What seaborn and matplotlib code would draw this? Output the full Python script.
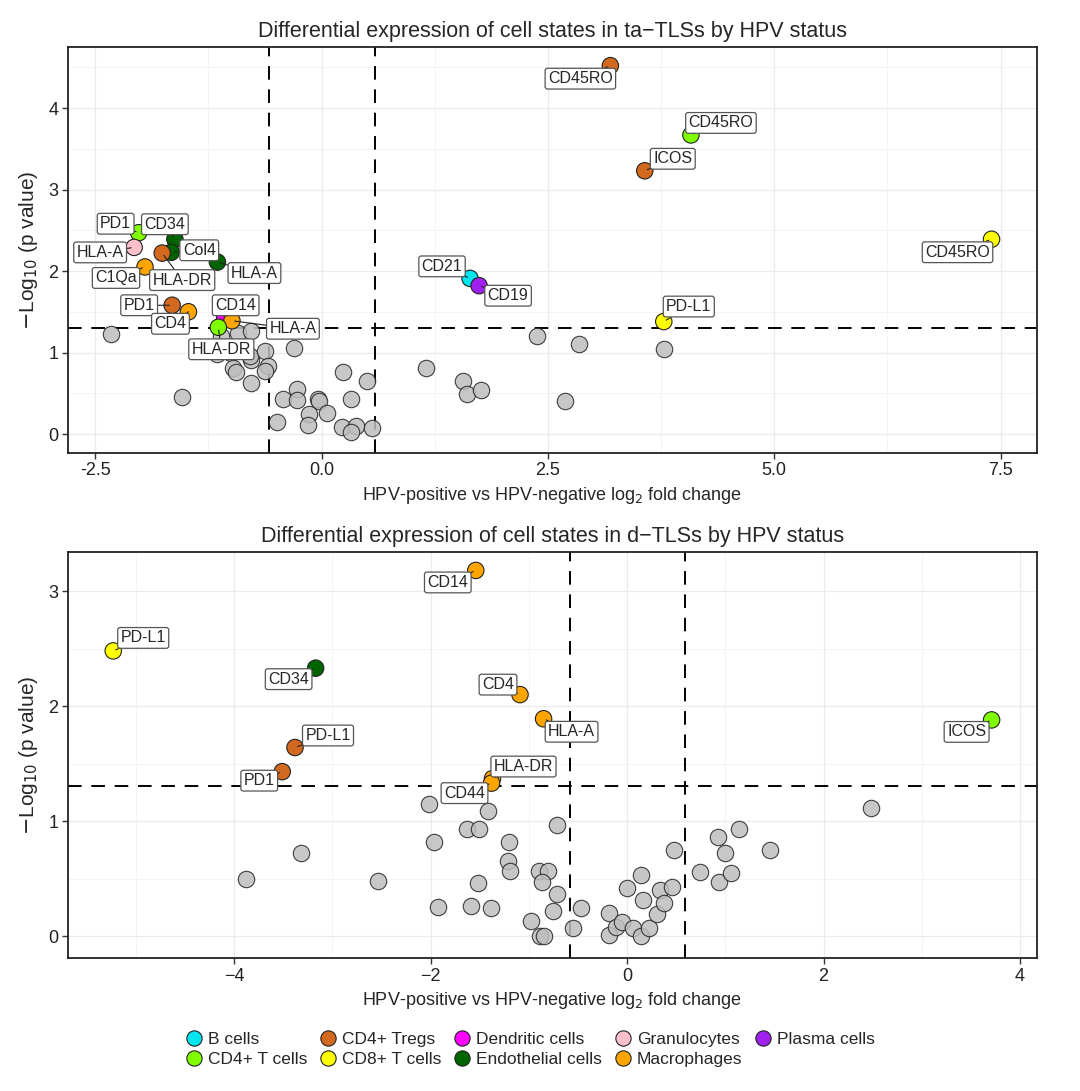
import numpy as np
import pandas as pd
import matplotlib
matplotlib.use("Agg")
import matplotlib.pyplot as plt
from matplotlib.lines import Line2D
import seaborn as sns

# legend categories and their fills
cell_types = ["B cells", "CD4+ T cells", "CD4+ Tregs", "CD8+ T cells", "Dendritic cells",
              "Endothelial cells", "Granulocytes", "Macrophages", "Plasma cells"]
type_colors = ["#00E5EE", "#7FFF00", "#D2691E", "#FFFF00", "#FF00FF",
               "#006400", "#FFC0CB", "#FFA500", "#A020F0"]

# ---- ta-TLS panel ----
ta_sig_type = ["CD4+ Tregs", "CD4+ T cells", "CD4+ Tregs", "CD8+ T cells", "B cells",
               "Plasma cells", "CD8+ T cells", "CD4+ T cells", "Granulocytes", "Endothelial cells",
               "Endothelial cells", "CD4+ Tregs", "Macrophages", "Endothelial cells", "CD4+ Tregs",
               "Macrophages", "Dendritic cells", "Macrophages", "CD4+ T cells"]
ta_sig_label = ["CD45RO", "CD45RO", "ICOS", "CD45RO", "CD21",
                "CD19", "PD-L1", "PD1", "HLA-A", "CD34",
                "Col4", "HLA-DR", "C1Qa", "HLA-A", "PD1",
                "CD4", "CD14", "HLA-A", "HLA-DR"]
ta_sig_fc = [3.19, 4.08, 3.57, 7.40, 1.64, 1.74, 3.78, -2.02, -2.07, -1.62,
             -1.66, -1.76, -1.95, -1.15, -1.65, -1.47, -1.07, -0.99, -1.14]
ta_sig_p = [4.52, 3.67, 3.23, 2.39, 1.91, 1.82, 1.38, 2.47, 2.29, 2.39,
            2.23, 2.22, 2.05, 2.11, 1.58, 1.50, 1.42, 1.39, 1.31]
ta_ns_fc = [-2.33, -1.54, -1.11, -0.92, -0.78, -1.16, -1.00, -0.78, -0.79, -0.63,
            -0.30, -0.98, -0.95, -0.59, -0.62, -0.78, 0.24, 0.50, -0.27, -0.43,
            -0.27, -0.04, -0.03, 0.33, -0.14, 0.06, -0.49, -0.15, 0.23, 0.38,
            0.33, 0.56, 2.38, 2.84, 3.78, 1.15, 1.56, 1.61, 1.76, 2.69]
ta_ns_p = [1.23, 0.46, 1.20, 1.24, 1.26, 0.98, 1.00, 0.91, 0.96, 1.02,
           1.05, 0.81, 0.76, 0.83, 0.77, 0.62, 0.76, 0.65, 0.55, 0.43,
           0.42, 0.43, 0.40, 0.43, 0.25, 0.26, 0.15, 0.11, 0.09, 0.10,
           0.02, 0.07, 1.20, 1.11, 1.04, 0.81, 0.65, 0.49, 0.54, 0.41]

# ---- d-TLS panel ----
d_sig_type = ["CD8+ T cells", "Endothelial cells", "CD4+ Tregs", "CD4+ Tregs", "Macrophages",
              "Macrophages", "Macrophages", "Macrophages", "Macrophages", "CD4+ T cells"]
d_sig_label = ["PD-L1", "CD34", "PD-L1", "PD1", "CD14", "CD4", "HLA-A", "HLA-DR", "CD44", "ICOS"]
d_sig_fc = [-5.23, -3.17, -3.38, -3.51, -1.54, -1.09, -0.85, -1.37, -1.38, 3.71]
d_sig_p = [2.48, 2.33, 1.64, 1.43, 3.18, 2.10, 1.89, 1.37, 1.33, 1.88]
d_ns_fc = [-3.88, -3.32, -2.54, -2.02, -1.42, -1.63, -1.51, -0.71, -1.97, -1.20,
           -1.21, -1.19, -0.90, -0.81, -0.87, -1.52, -0.71, -1.92, -1.59, -1.39,
           -0.98, -0.75, -0.89, -0.85, -0.55, -0.47, -0.18, -0.18, -0.11, -0.05,
           0.00, 0.06, 0.14, 0.16, 0.14, 0.22, 0.30, 0.34, 0.38, 0.46,
           0.48, 0.74, 0.93, 0.94, 1.00, 1.06, 1.14, 1.45, 2.48]
d_ns_p = [0.50, 0.72, 0.48, 1.15, 1.09, 0.93, 0.93, 0.97, 0.82, 0.82,
          0.65, 0.57, 0.57, 0.57, 0.47, 0.46, 0.37, 0.25, 0.26, 0.24,
          0.13, 0.22, 0.00, 0.00, 0.07, 0.24, 0.20, 0.01, 0.08, 0.12,
          0.42, 0.07, 0.53, 0.31, 0.00, 0.07, 0.19, 0.40, 0.29, 0.43,
          0.75, 0.56, 0.86, 0.47, 0.72, 0.55, 0.93, 0.75, 1.11]

# label nudges in pixels (layout only)
ta_label_off = [(-30, -13), (30, 12), (28, 12), (-34, -13), (-28, 12), (29, -10), (25, 15),
                (-23, 9), (-34, -5), (-10, 15), (28, 2), (20, -27), (-29, -11), (37, -11),
                (-33, 0), (-18, -12), (11, 13), (61, -8), (3, -22)]
d_label_off = [(30, 13), (-27, -11), (33, 12), (-23, -9), (-28, -12), (-22, 10),
               (28, -13), (31, 12), (-27, -10), (-25, -12)]

palette = dict(zip(cell_types, type_colors))
fc_cut = np.log2(1.5)
p_cut = -np.log10(0.05)

sns.set_theme(style="whitegrid")
plt.rcParams['font.family'] = ['Liberation Sans', 'DejaVu Sans']

fig = plt.figure(figsize=(10.8, 10.91), dpi=100)
ax_top = fig.add_axes([0.063, 0.585, 0.897, 0.372])
ax_bot = fig.add_axes([0.063, 0.122, 0.897, 0.372])


def volcano(ax, ns_fc, ns_p, sig_fc, sig_p, sig_type, sig_label, offs, title):
    ns_df = pd.DataFrame({"fc": ns_fc, "p": ns_p})
    sig_df = pd.DataFrame({"fc": sig_fc, "p": sig_p, "type": sig_type, "label": sig_label})

    ax.axvline(-fc_cut, color="black", lw=1.4, dashes=(7, 5), zorder=1)
    ax.axvline(fc_cut, color="black", lw=1.4, dashes=(7, 5), zorder=1)
    ax.axhline(p_cut, color="black", lw=1.4, dashes=(7, 5), zorder=1)

    sns.scatterplot(data=ns_df, x="fc", y="p", color="#BEBEBE", edgecolor="#222222",
                    linewidth=0.8, s=140, alpha=0.85, ax=ax, legend=False, zorder=2)
    sns.scatterplot(data=sig_df, x="fc", y="p", hue="type", palette=palette,
                    edgecolor="#222222", linewidth=0.8, s=140, ax=ax, legend=False, zorder=3)

    for (x, y, lab), (dx, dy) in zip(zip(sig_df.fc, sig_df.p, sig_df.label), offs):
        ax.annotate(lab, xy=(x, y), xytext=(dx, dy), textcoords="offset pixels",
                    ha="center", va="center", fontsize=11.5, zorder=5,
                    bbox=dict(boxstyle="round,pad=0.18,rounding_size=0.15", fc="white",
                              ec="#555555", lw=0.9),
                    arrowprops=dict(arrowstyle="-", color="#222222", lw=0.8,
                                    shrinkA=0, shrinkB=2))

    ax.set_title(title, fontsize=15.5, pad=7)
    ax.set_xlabel("HPV-positive vs HPV-negative log$_2$ fold change", fontsize=13, labelpad=4)
    ax.set_ylabel("$-$Log$_{10}$ (p value)", fontsize=15, labelpad=6)

    ax.grid(which="major", color="#EBEBEB", lw=0.9)
    ax.grid(which="minor", color="#F3F3F3", lw=0.6)
    ax.tick_params(which="major", length=4, width=1, color="#333333", labelsize=13,
                   labelcolor="#222222", pad=3, bottom=True, left=True)
    ax.tick_params(which="minor", length=0)
    for sp in ax.spines.values():
        sp.set_color("#222222")
        sp.set_linewidth(1.3)


volcano(ax_top, ta_ns_fc, ta_ns_p, ta_sig_fc, ta_sig_p, ta_sig_type, ta_sig_label,
        ta_label_off, "Differential expression of cell states in ta\u2212TLSs by HPV status")
ax_top.set_xlim(-2.80, 7.90)
ax_top.set_ylim(-0.23, 4.75)
ax_top.set_xticks([-2.5, 0, 2.5, 5.0, 7.5])
ax_top.set_xticklabels(["-2.5", "0.0", "2.5", "5.0", "7.5"])
ax_top.set_xticks([-1.25, 1.25, 3.75, 6.25], minor=True)
ax_top.set_yticks([0, 1, 2, 3, 4])
ax_top.set_yticks([0.5, 1.5, 2.5, 3.5, 4.5], minor=True)

volcano(ax_bot, d_ns_fc, d_ns_p, d_sig_fc, d_sig_p, d_sig_type, d_sig_label,
        d_label_off, "Differential expression of cell states in d\u2212TLSs by HPV status")
ax_bot.set_xlim(-5.69, 4.17)
ax_bot.set_ylim(-0.19, 3.34)
ax_bot.set_xticks([-4, -2, 0, 2, 4])
ax_bot.set_xticks([-5, -3, -1, 1, 3], minor=True)
ax_bot.set_yticks([0, 1, 2, 3])
ax_bot.set_yticks([0.5, 1.5, 2.5], minor=True)

handles = [Line2D([], [], marker="o", ls="", markersize=11, markerfacecolor=c,
                  markeredgecolor="#222222", markeredgewidth=0.8) for c in type_colors]
fig.legend(handles, cell_types, loc="center", bbox_to_anchor=(0.49, 0.038), ncol=5,
           frameon=False, fontsize=12.5, handletextpad=0.2, columnspacing=0.6,
           labelspacing=0.3, handlelength=1.2)

fig.savefig("out.png", dpi=100, facecolor="white")
